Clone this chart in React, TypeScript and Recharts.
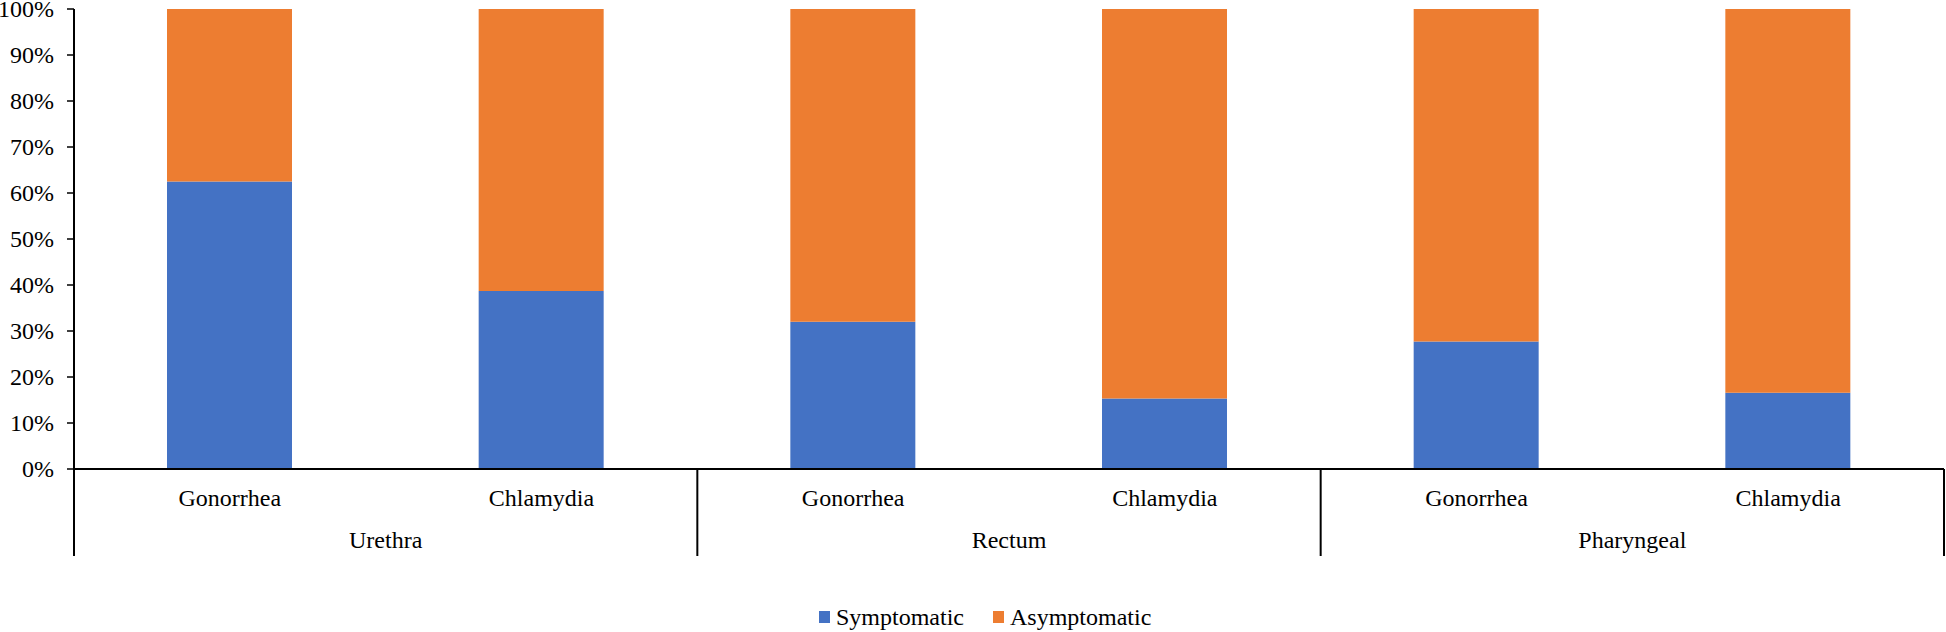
import { BarChart, Bar, XAxis, YAxis, Legend } from "recharts";

const sites = ["Urethra", "Rectum", "Pharyngeal"];
const diseases = ["Gonorrhea", "Chlamydia", "Gonorrhea", "Chlamydia", "Gonorrhea", "Chlamydia"];
const symptomatic = [62.5, 38.7, 32.0, 15.3, 27.7, 16.6];
const asymptomatic = [37.5, 61.3, 68.0, 84.7, 72.3, 83.4];
const yTicks = [0, 10, 20, 30, 40, 50, 60, 70, 80, 90, 100];

const data = diseases.map((d, i) => ({
  disease: d,
  site: sites[Math.floor(i / 2)],
  symptomatic: symptomatic[i],
  asymptomatic: asymptomatic[i],
}));

const W = 1946;
const H = 632;
const LEFT = 74;
const RIGHT = 2;
const TOP = 9;
const AXIS_H = 163;
const AXIS_Y = H - AXIS_H;
const BAND = (W - LEFT - RIGHT) / data.length;
const FONT = "'Liberation Serif', 'Times New Roman', serif";

const BLUE = "#4472C4";
const ORANGE = "#ED7D31";

/* two-level category labels with group separators */
function CategoryTick({ x, payload, index }: any) {
  const last = index === data.length - 1;
  return (
    <g>
      <text x={x} y={AXIS_Y + 37} textAnchor="middle" fontSize={24} fontFamily={FONT} fill="#000">
        {payload.value}
      </text>
      {index % 2 === 0 && (
        <>
          <line x1={x - BAND / 2} x2={x - BAND / 2} y1={AXIS_Y} y2={AXIS_Y + 87} stroke="#000" strokeWidth={2} />
          <text x={x + BAND / 2} y={AXIS_Y + 79} textAnchor="middle" fontSize={24} fontFamily={FONT} fill="#000">
            {sites[Math.floor(index / 2)]}
          </text>
        </>
      )}
      {last && (
        <line x1={x + BAND / 2} x2={x + BAND / 2} y1={AXIS_Y} y2={AXIS_Y + 87} stroke="#000" strokeWidth={2} />
      )}
    </g>
  );
}

function PercentTick({ x, y, payload }: any) {
  return (
    <text x={x} y={y} dy="0.34em" textAnchor="end" fontSize={24} fontFamily={FONT} fill="#000">
      {`${payload.value}%`}
    </text>
  );
}

function LegendContent() {
  const items = [
    { label: "Symptomatic", color: BLUE },
    { label: "Asymptomatic", color: ORANGE },
  ];
  return (
    <div style={{ display: "flex", alignItems: "center", fontFamily: FONT, fontSize: 24, color: "#000", lineHeight: "28px" }}>
      {items.map((it) => (
        <div key={it.label} style={{ display: "flex", alignItems: "center", marginRight: 29 }}>
          <span style={{ display: "inline-block", width: 11, height: 12, background: it.color, marginRight: 6 }} />
          <span>{it.label}</span>
        </div>
      ))}
    </div>
  );
}

export default function App() {
  return (
    <div style={{ position: "absolute", left: 0, top: 0, width: W, height: H, background: "#fff" }}>
      <BarChart width={W} height={H} data={data} margin={{ top: TOP, right: RIGHT, bottom: 0, left: 0 }}>
        <XAxis
          dataKey="disease"
          height={AXIS_H}
          interval={0}
          tickLine={false}
          axisLine={{ stroke: "#000", strokeWidth: 2 }}
          tick={<CategoryTick />}
        />
        <YAxis
          type="number"
          domain={[0, 100]}
          ticks={yTicks}
          width={LEFT}
          tickSize={7}
          tickMargin={13}
          axisLine={{ stroke: "#000", strokeWidth: 2 }}
          tickLine={{ stroke: "#000", strokeWidth: 1.5 }}
          tick={<PercentTick />}
        />
        <Legend
          verticalAlign="middle"
          align="center"
          content={<LegendContent />}
          wrapperStyle={{ top: 603, left: 819, width: 420, height: 28 }}
        />
        <Bar dataKey="symptomatic" name="Symptomatic" stackId="a" fill={BLUE} barSize={125} isAnimationActive={false} />
        <Bar dataKey="asymptomatic" name="Asymptomatic" stackId="a" fill={ORANGE} barSize={125} isAnimationActive={false} />
      </BarChart>
    </div>
  );
}
